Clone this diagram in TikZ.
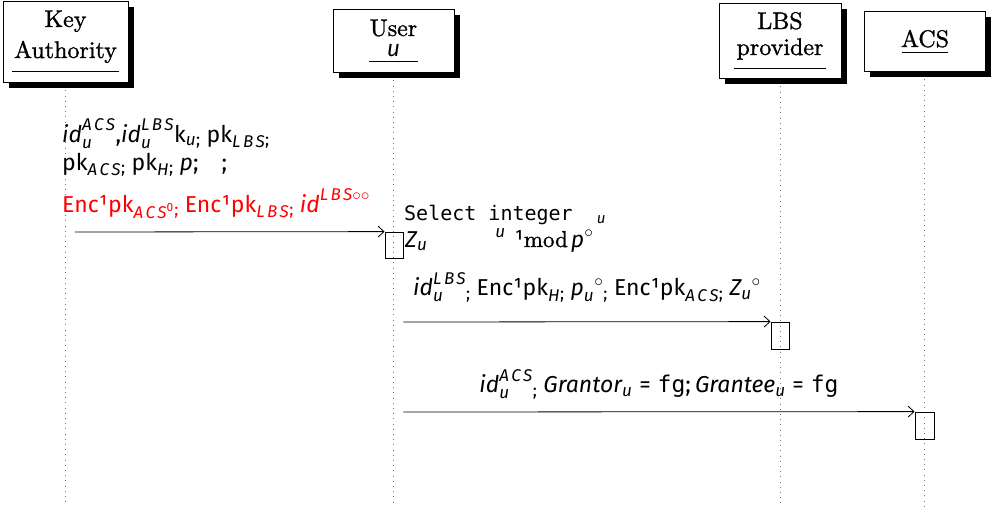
\documentclass[tikz,border=0pt]{standalone}
\usepackage{amsmath}
\usepackage{fontspec}
\setsansfont{Fira Sans}
\setmonofont{DejaVu Sans Mono}
\newfontfamily\headfont{lmroman10-regular.otf}[FakeBold=1.2]
\newfontfamily\scrfont{Fira Sans Italic}[LetterSpace=15]
\usetikzlibrary{shadows,arrows.meta,calc}
\DeclareMathSizes{23}{23}{17}{12}
\DeclareMathSizes{20}{20}{15}{11}

% italic and upright pieces inside formulas, set in the current text font
\newcommand\I[1]{\text{\itshape #1}}
\newcommand\R[1]{\text{\upshape #1}}
% italic for indices
\newcommand\Ix[1]{\text{\scrfont #1}}
% small lowered separator
\newcommand\sm{{}_{\text{\upshape;}}\hspace{6pt}}
\newcommand\eq{\mathrel{\R{=}}}

\begin{document}
\begin{tikzpicture}[x=1pt,y=-1pt,
  objbox/.style={draw,fill=white,line width=0.9pt,inner sep=0pt,
    drop shadow={shadow xshift=6pt,shadow yshift=-6pt,opacity=1,fill=black}},
  headtxt/.style={font=\headfont\fontsize{24}{28}\selectfont,inner sep=0pt,anchor=base},
  headvar/.style={font=\sffamily\itshape\fontsize{23}{27}\selectfont,inner sep=0pt,anchor=base},
  lifeline/.style={black!55,line width=0.8pt,dash pattern=on 0.8pt off 4.4pt},
  actbox/.style={draw,line width=0.8pt,minimum width=18pt,minimum height=26pt,inner sep=0pt},
  msg/.style={line width=0.8pt,-{Straight Barb[length=6pt,width=11pt]}},
  msgtxt/.style={font=\sffamily\fontsize{23}{27}\selectfont,inner sep=0pt,anchor=base west},
  msglabel/.style={msgtxt,anchor=base},
  monotxt/.style={font=\ttfamily\fontsize{20}{24}\selectfont,inner sep=0pt,anchor=base west}]
\useasboundingbox (0,0) rectangle (993,506);
\coordinate (bottom) at (0,506);

% object boxes
\node[objbox,minimum width=125pt,minimum height=81pt] (ka) at (65.5,41.5) {};
\node[objbox,minimum width=121pt,minimum height=63pt] (user) at (393.5,40.5) {};
\node[objbox,minimum width=122pt,minimum height=75pt] (lbs) at (780,40.5) {};
\node[objbox,minimum width=121pt,minimum height=60pt] (acs) at (924.5,41) {};

% object names
\node[headtxt] (kaA) at (65.5,27) {Key};
\node[headtxt] (kaB) at (65.5,58) {Authority};
\draw[line width=0.9pt] (12,71) -- (119,71);
\node[headtxt] (userA) at (393.5,36) {User};
\node[headvar] (userB) at (393.5,56) {u};
\draw[line width=0.9pt] (369,61) -- (418,61);
\node[headtxt] (lbsA) at (780,29) {LBS};
\node[headtxt] (lbsB) at (780,55) {provider};
\draw[line width=0.9pt] (734,68) -- (826,68);
\node[headtxt] (acsA) at (925,47) {ACS};
\draw[line width=0.9pt] (902,52) -- (948,52);

% lifelines
\draw[lifeline] (ka.south) ++(0,8) -- (ka.south |- bottom);
\draw[lifeline] (user.south) ++(0,8) -- (user.south |- bottom);
\draw[lifeline] (lbs.south) ++(0,8) -- (lbs.south |- bottom);
\draw[lifeline] (acs.south) ++(0,8) -- (acs.south |- bottom);

% activations
\node[actbox] (act1) at (394,245) {};
\node[actbox,minimum height=27pt] (act2) at (780,335.5) {};
\node[actbox,minimum width=19pt,minimum height=27pt] (act3) at (924.5,425.5) {};

% messages
\coordinate (m1) at (75,232);
\coordinate (m2) at (0,322);
\coordinate (m3) at (0,412);
\draw[msg] (m1) -- (act1.north west);
\draw[msg] (act1.east |- m2) -- (act2.north west);
\draw[msg] (act1.east |- m3) -- (act3.north west);

% key distribution
\node[msgtxt] (t1) at (62,142)
  {$\I{id}^{\Ix{ACS}}_{\Ix{u}}\R{,}\I{id}^{\Ix{LBS}}_{\Ix{u}}\R{k}_{\Ix{u}}\sm\R{pk}_{\Ix{LBS}}\sm$};
\node[msgtxt] (t2) at (62,170)
  {$\R{pk}_{\Ix{ACS}}\sm\R{pk}_{\Ix{H}}\sm\I{p}\R{;\quad;}$};
\node[msgtxt,text=red] (t3) at (62,212)
  {$\R{Enc¹pk}_{\Ix{ACS}^{\R{0}}}\sm\R{Enc¹pk}_{\Ix{LBS}}\sm\I{id}^{\Ix{LBS}{\circ}{\circ}}$};

% local computation
\node[monotxt] (s1) at (404,220) {Select integer\hspace{24pt}$_{\Ix{u}}$};
\node[msgtxt] (s2) at (405,247)
  {$\I{Z}_{\Ix{u}}$\hspace{68pt}$^{\Ix{u}}$\hspace{9pt}¹{\headfont mod}\hspace{3pt}$\I{p}{}^{\circ}$};

% request to the LBS provider
\node[msglabel] (t4) at ($(act1.east |- m2)!0.5!(act2.north west)$) [yshift=26pt]
  {$\I{id}^{\Ix{LBS}}_{\Ix{u}}\sm\R{Enc¹pk}_{\Ix{H}}\sm\I{p}_{\Ix{u}}{}^{\circ}\sm\R{Enc¹pk}_{\Ix{ACS}}\sm\I{Z}_{\Ix{u}}{}^{\circ}$};

% request to the ACS
\node[msglabel] (t5) at ($(act1.east |- m3)!0.5!(act3.north west)$) [yshift=19pt]
  {$\I{id}^{\Ix{ACS}}_{\Ix{u}}\sm\I{Grantor}_{\Ix{u}}\eq\text{\ttfamily fg}\R{;}\,\I{Grantee}_{\Ix{u}}\eq\text{\ttfamily fg}$};
\end{tikzpicture}
\end{document}
